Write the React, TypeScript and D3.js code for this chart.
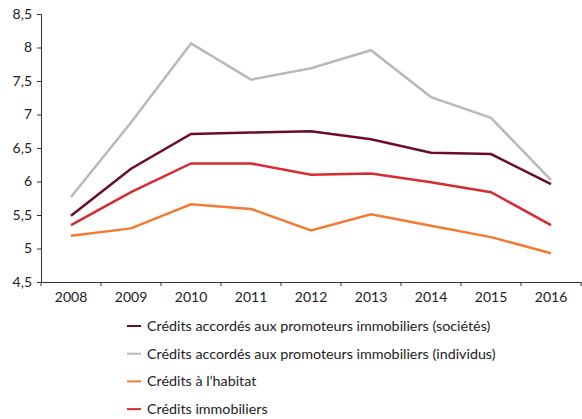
import * as d3 from 'd3';
import React, { useRef, useEffect } from 'react';

const years = ['2008', '2009', '2010', '2011', '2012', '2013', '2014', '2015', '2016'];
const societes = [5.49, 6.19, 6.71, 6.73, 6.75, 6.63, 6.43, 6.41, 5.96];
const individus = [5.77, 6.88, 8.06, 7.52, 7.69, 7.96, 7.26, 6.95, 6.02];
const habitat = [5.19, 5.30, 5.66, 5.59, 5.27, 5.51, 5.34, 5.17, 4.93];
const immobiliers = [5.35, 5.84, 6.27, 6.27, 6.10, 6.12, 5.99, 5.84, 5.35];
const yTicks = [4.5, 5, 5.5, 6, 6.5, 7, 7.5, 8, 8.5];

const series = [
  { name: 'Crédits accordés aux promoteurs immobiliers (sociétés)', values: societes, color: '#6a0c2c' },
  { name: 'Crédits accordés aux promoteurs immobiliers (individus)', values: individus, color: '#b9b9b9' },
  { name: 'Crédits à l’habitat', values: habitat, color: '#f37a32' },
  { name: 'Crédits immobiliers', values: immobiliers, color: '#d82a32' },
];

function LineChart() {
  const ref = useRef<SVGSVGElement>(null);

  useEffect(() => {
    const svg = d3.select(ref.current);
    svg.selectAll('*').remove();

    const x = d3.scaleBand().domain(years).range([41, 581]);
    const y = d3.scaleLinear().domain([4.5, 8.5]).range([282, 14]);

    // Y axis
    const yAxis = svg.append('g')
      .attr('transform', 'translate(41,0)')
      .call(d3.axisLeft(y).tickValues(yTicks).tickSize(4).tickPadding(5)
        .tickFormat(d => d3.format('.1~f')(d as number).replace('.', ',')));
    yAxis.select('.domain').attr('stroke', '#333');
    yAxis.selectAll('line').attr('stroke', '#333');
    yAxis.selectAll('text').attr('font-size', 14).attr('fill', '#222').attr('font-family', 'Lato, sans-serif');

    // X axis
    const xAxis = svg.append('g')
      .attr('transform', 'translate(0,282)')
      .call(d3.axisBottom(x).tickSize(0).tickPadding(10));
    xAxis.select('.domain').attr('stroke', '#333');
    xAxis.selectAll('text').attr('font-size', 14).attr('fill', '#222').attr('font-family', 'Lato, sans-serif');
    xAxis.selectAll('.edge')
      .data(years.concat(['end']))
      .join('line')
      .attr('x1', (d, i) => 41 + i * x.bandwidth())
      .attr('x2', (d, i) => 41 + i * x.bandwidth())
      .attr('y1', 0).attr('y2', 4)
      .attr('stroke', '#333');

    const line = d3.line<number>()
      .x((d, i) => (x(years[i]) as number) + x.bandwidth() / 2)
      .y(d => y(d));

    svg.append('g').selectAll('path')
      .data(series)
      .join('path')
      .attr('d', d => line(d.values))
      .attr('fill', 'none')
      .attr('stroke', d => d.color)
      .attr('stroke-width', 2.5);

    // Legend
    const legend = svg.append('g').selectAll('g')
      .data(series)
      .join('g')
      .attr('transform', (d, i) => `translate(127,${326 + i * 27.7})`);
    legend.append('line')
      .attr('x1', 0).attr('x2', 14).attr('y1', 0).attr('y2', 0)
      .attr('stroke', d => d.color).attr('stroke-width', 2);
    legend.append('text')
      .attr('x', 20).attr('y', 5)
      .attr('font-size', 14.3).attr('fill', '#222').attr('font-family', 'Lato, sans-serif')
      .text(d => d.name);
  }, []);

  return <svg ref={ref} width={582} height={419} style={{ display: 'block' }} />;
}

export default function App() {
  return (
    <div style={{ position: 'absolute', left: 0, top: 0 }}>
      <LineChart />
    </div>
  );
}
